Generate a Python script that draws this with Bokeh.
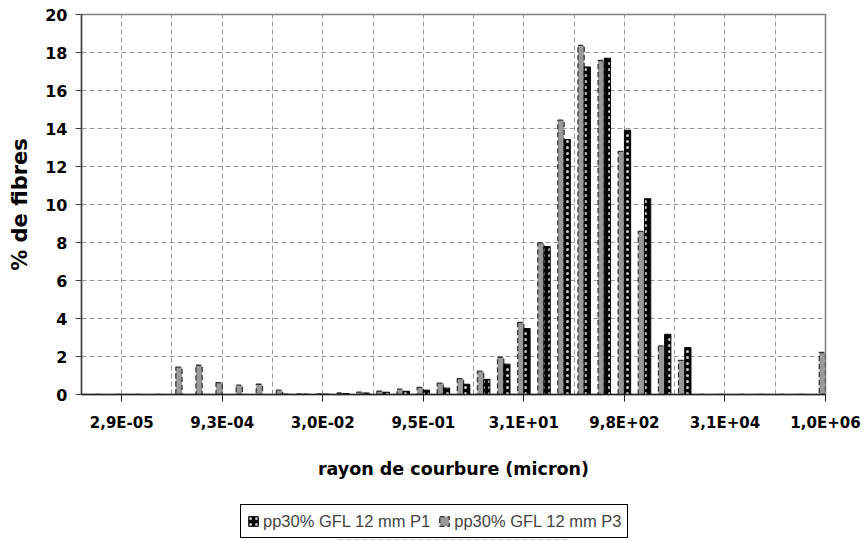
from bokeh.plotting import figure
from bokeh.layouts import column
from bokeh.models import ColumnDataSource, FixedTicker, Legend, LegendItem, Range1d
from bokeh.transform import dodge
from bokeh.embed import file_html
from bokeh.resources import INLINE

# category index of each size bin (factor 2 per bin)
categories = list(range(1, 39))
# % de fibres, series P3 (grey) and P1 (black)
p3 = [0, 0, 0, 0, 0, 1.44, 1.54, 0.63, 0.49, 0.54, 0.23, 0.03, 0.03, 0.08, 0.12,
      0.17, 0.28, 0.38, 0.60, 0.84, 1.23, 1.96, 3.79, 7.98, 14.44, 18.38, 17.58,
      12.80, 8.59, 2.56, 1.80, 0, 0, 0, 0, 0, 0, 2.21]
p1 = [0, 0, 0, 0, 0, 0, 0, 0, 0, 0, 0.02, 0.02, 0.02, 0.05, 0.08,
      0.12, 0.17, 0.23, 0.34, 0.54, 0.80, 1.60, 3.47, 7.79, 13.42, 17.24, 17.70,
      13.91, 10.30, 3.17, 2.47, 0, 0, 0, 0, 0, 0, 0]
tick_categories = [3, 8, 13, 18, 23, 28, 33, 38]
tick_labels = ["2,9E-05", "9,3E-04", "3,0E-02", "9,5E-01", "3,1E+01",
               "9,8E+02", "3,1E+04", "1,0E+06"]
y_ticks = [0, 2, 4, 6, 8, 10, 12, 14, 16, 18, 20]
series_names = ["pp30% GFL 12 mm P1", "pp30% GFL 12 mm P3"]

src = ColumnDataSource(dict(x=categories, p3=p3, p1=p1))

BOLD = "DejaVu Sans"
FONT = "Liberation Sans"

P3_STYLE = dict(fill_color="#999999", line_color="#333333", line_width=1.3,
                line_dash="5 3")
P1_STYLE = dict(fill_color="black", line_color="black", line_width=1,
                hatch_pattern="dot", hatch_color="white", hatch_scale=6,
                hatch_weight=1, hatch_alpha=0.8)

p = figure(width=864, height=490, x_range=(1, 38), y_range=(0, 20),
           output_backend="svg", toolbar_location=None,
           min_border_left=81, min_border_right=39, min_border_top=14,
           min_border_bottom=96)
p.background_fill_color = "white"
p.border_fill_color = "white"
p.outline_line_color = "#808080"
p.outline_line_width = 1.5

bw = 0.31
r3 = p.vbar(x=dodge("x", -bw / 2, range=p.x_range), top="p3", width=bw,
            source=src, **P3_STYLE)
r1 = p.vbar(x=dodge("x", bw / 2, range=p.x_range), top="p1", width=bw,
            source=src, **P1_STYLE)

# axes
p.xaxis.ticker = FixedTicker(ticks=tick_categories)
p.xaxis.major_label_overrides = {t: l for t, l in zip(tick_categories, tick_labels)}
p.xaxis.minor_tick_line_color = None
p.xaxis.major_tick_out = 7
p.xaxis.major_tick_in = 0
p.xaxis.axis_line_color = "#222222"
p.xaxis.axis_line_width = 1.5
p.xaxis.major_tick_line_color = "#222222"
p.xaxis.major_label_text_font = BOLD
p.xaxis.major_label_text_font_style = "bold"
p.xaxis.major_label_text_font_size = "15px"
p.xaxis.major_label_text_color = "black"
p.xaxis.major_label_standoff = 12
p.xaxis.axis_label = "rayon de courbure (micron)"
p.xaxis.axis_label_text_font = BOLD
p.xaxis.axis_label_text_font_style = "bold"
p.xaxis.axis_label_text_font_size = "17.5px"
p.xaxis.axis_label_text_color = "black"
p.xaxis.axis_label_standoff = 24

p.yaxis.ticker = FixedTicker(ticks=y_ticks)
p.yaxis.minor_tick_line_color = None
p.yaxis.major_tick_out = 6
p.yaxis.major_tick_in = 0
p.yaxis.axis_line_color = "#444444"
p.yaxis.axis_line_width = 1.5
p.yaxis.major_tick_line_color = "#444444"
p.yaxis.major_label_text_font = BOLD
p.yaxis.major_label_text_font_style = "bold"
p.yaxis.major_label_text_font_size = "16px"
p.yaxis.major_label_text_color = "black"
p.yaxis.major_label_standoff = 8
p.yaxis.axis_label = "% de fibres"
p.yaxis.axis_label_text_font = BOLD
p.yaxis.axis_label_text_font_style = "bold"
p.yaxis.axis_label_text_font_size = "21px"
p.yaxis.axis_label_text_color = "black"
p.yaxis.axis_label_standoff = 10

# grids
p.xgrid.ticker = FixedTicker(ticks=[tick_categories[0] + 2.5 * i for i in range(15)])
p.xgrid.grid_line_color = "#999999"
p.xgrid.grid_line_dash = "5 3"
p.ygrid.ticker = FixedTicker(ticks=y_ticks)
p.ygrid.grid_line_color = "#999999"
p.ygrid.grid_line_dash = "5 3"

# legend strip below the chart (frames are aligned by the column layout);
# its swatch renderers sit below the visible range
swatch = ColumnDataSource(dict(x=[0.5], top=[0]))
pl = figure(width=864, height=50, x_range=Range1d(0, 1), y_range=Range1d(1, 2),
            output_backend="svg", toolbar_location=None,
            x_axis_location=None, y_axis_location=None,
            min_border_left=0, min_border_right=0, min_border_top=0,
            min_border_bottom=0)
pl.grid.visible = False
pl.outline_line_color = None
l3 = pl.vbar(x="x", top="top", width=bw, source=swatch, **P3_STYLE)
l1 = pl.vbar(x="x", top="top", width=bw, source=swatch, **P1_STYLE)

legend = Legend(items=[LegendItem(label=series_names[0], renderers=[l1]),
                       LegendItem(label=series_names[1], renderers=[l3])],
                orientation="horizontal", location=(159, 2))
legend.label_text_font = FONT
legend.label_text_font_size = "16.5px"
legend.label_standoff = 4
legend.label_height = 20
legend.glyph_width = 12
legend.glyph_height = 12
legend.spacing = 8
legend.padding = 6
legend.margin = 0
legend.border_line_color = "black"
legend.border_line_alpha = 1
legend.border_line_width = 1
legend.background_fill_alpha = 1
pl.add_layout(legend, "center")

layout = column(p, pl, spacing=0)
open("out.html", "w").write(file_html(layout, INLINE))
